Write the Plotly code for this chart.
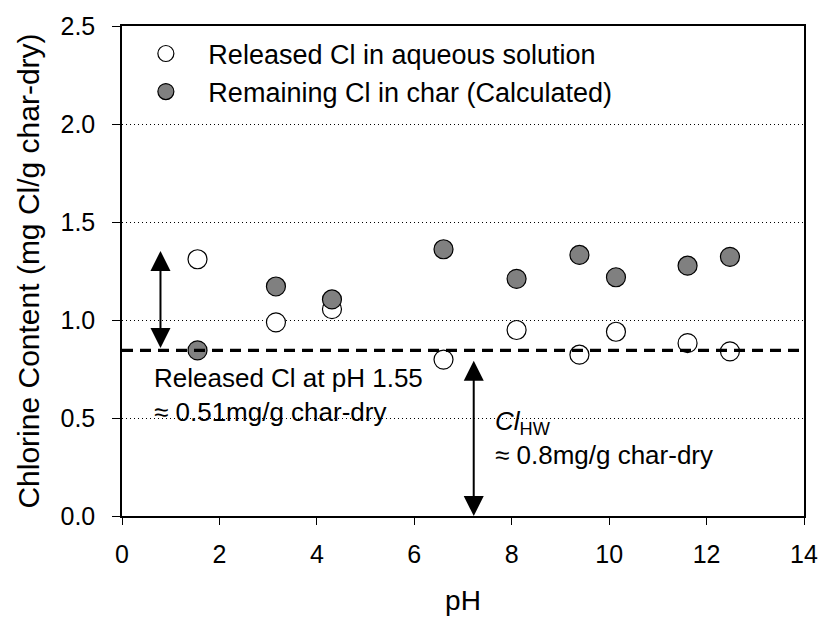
import plotly.graph_objects as go

# Data
ph = [1.55, 3.16, 4.31, 6.60, 8.10, 9.39, 10.14, 11.61, 12.48]
released_cl = [1.31, 0.988, 1.055, 0.798, 0.949, 0.823, 0.940, 0.882, 0.840]
remaining_cl = [0.845, 1.171, 1.105, 1.361, 1.210, 1.332, 1.218, 1.277, 1.322]

cl_hw_level = 0.845

x_ticks = [0, 2, 4, 6, 8, 10, 12, 14]
x_tick_labels = ["0", "2", "4", "6", "8", "10", "12", "14"]
y_ticks = [0.0, 0.5, 1.0, 1.5, 2.0, 2.5]
y_tick_labels = ["0.0", "0.5", "1.0", "1.5", "2.0", "2.5"]

# Annotation arrows (x position, tip, tail) in data units
arrow1 = dict(x=0.79, y_top=1.36, y_bottom=0.857)
arrow2 = dict(x=7.22, y_top=0.80, y_bottom=0.0)

FONT = "Liberation Sans, Arial, Helvetica, sans-serif"

fig = go.Figure()

fig.add_trace(go.Scatter(
    x=ph, y=released_cl, mode="markers",
    name="\u00a0\u00a0\u00a0Released Cl in aqueous solution",
    marker=dict(size=19, color="white", line=dict(color="black", width=1.2)),
))
fig.add_trace(go.Scatter(
    x=ph, y=remaining_cl, mode="markers",
    name="\u00a0\u00a0\u00a0Remaining Cl in char (Calculated)",
    marker=dict(size=19, color="#808080", line=dict(color="black", width=1.2)),
))

fig.add_shape(type="line", xref="x", yref="y", x0=0, x1=14,
              y0=cl_hw_level, y1=cl_hw_level, layer="above",
              line=dict(color="black", width=3.2, dash="11px,7px"))

for a in (arrow1, arrow2):
    fig.add_annotation(
        x=a["x"], y=a["y_bottom"], ax=a["x"], ay=a["y_top"],
        xref="x", yref="y", axref="x", ayref="y",
        text="", showarrow=True, arrowhead=2, startarrowhead=2,
        arrowside="end+start", arrowwidth=2, arrowsize=2.0, startarrowsize=2.0,
        standoff=0, startstandoff=0, arrowcolor="black",
    )

ann_font = dict(family=FONT, size=26, color="black")
texts = [
    (0.61, 0.616, "Released Cl at pH 1.55<br>\u2248 0.51mg/g char-dry"),
    (7.62, 0.398, "<i>Cl</i><sub>HW</sub><br>\u2248 0.8mg/g char-dry"),
]
for tx, ty, t in texts:
    fig.add_annotation(x=tx, y=ty, xref="x", yref="y", text=t, showarrow=False,
                       xanchor="left", yanchor="middle", align="left",
                       font=ann_font)

fig.update_layout(
    width=830, height=623,
    margin=dict(l=122, r=21, t=23, b=105),
    paper_bgcolor="white", plot_bgcolor="white",
    font=dict(family=FONT, color="black"),
    showlegend=True,
    legend=dict(x=0.035, y=0.993, xanchor="left", yanchor="top",
                bgcolor="rgba(0,0,0,0)", font=dict(family=FONT, size=27),
                tracegroupgap=0),
    xaxis=dict(
        range=[0, 14], tickvals=x_ticks, ticktext=x_tick_labels,
        showgrid=False, zeroline=False,
        showline=True, linecolor="black", linewidth=1.5, mirror=True,
        ticks="outside", ticklen=7, tickwidth=1.2, tickcolor="black",
        tickfont=dict(family=FONT, size=25), ticklabelstandoff=8,
        title=dict(text="pH", font=dict(family=FONT, size=28), standoff=24),
    ),
    yaxis=dict(
        range=[0, 2.5], tickvals=y_ticks, ticktext=y_tick_labels,
        showgrid=True, gridcolor="black", gridwidth=1, griddash="1px,3px",
        zeroline=False,
        showline=True, linecolor="black", linewidth=1.5, mirror=True,
        ticks="outside", ticklen=8, tickwidth=1.2, tickcolor="black",
        tickfont=dict(family=FONT, size=25), ticklabelstandoff=12,
        title=dict(text="Chlorine Content (mg Cl/g char-dry)",
                   font=dict(family=FONT, size=30), standoff=12),
    ),
)

fig.write_html("out.html")
